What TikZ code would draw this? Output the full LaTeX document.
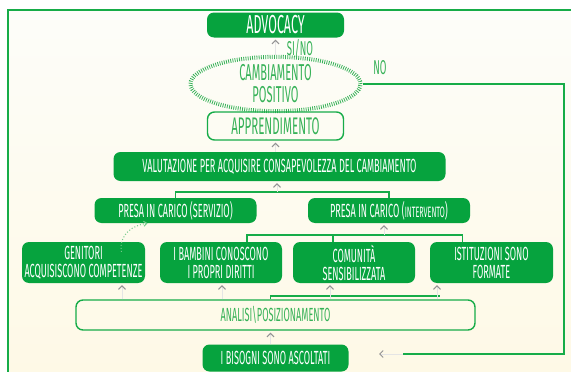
\documentclass[tikz,border=0pt]{standalone}
\usepackage{fontspec}
\setmainfont{Fira Sans}[FakeStretch=0.48]
\usepackage{tikz}
\usetikzlibrary{positioning,shapes.geometric,arrows.meta}
\definecolor{boxgreen}{RGB}{6,163,62}
\definecolor{linegreen}{RGB}{22,172,72}
\definecolor{textgreen}{RGB}{55,178,88}
\definecolor{paper}{RGB}{254,249,230}
\definecolor{paperTop}{RGB}{253,253,249}
\tikzset{
	tag/.style={rectangle,rounded corners=7pt,fill=boxgreen,text=white,align=center,inner sep=0pt,font=\fontsize{19}{18}\selectfont},
	tagw/.style={tag,fill=none,draw=linegreen,line width=1.4pt,text=textgreen},
	goal/.style={ellipse,draw=textgreen,line width=4pt,dash pattern=on 0.8pt off 1.4pt,text=textgreen,align=center,inner sep=0pt,font=\fontsize{23}{22}\selectfont},
	link/.style={draw=linegreen,line width=1.2pt},
	up/.style={-{Straight Barb[length=3.5pt,width=7pt,color=gray!85]},draw=gray!20,line width=1pt,shorten >=2pt},
	lbl/.style={text=textgreen,font=\fontsize{20}{20}\selectfont}
}

\begin{document}
\begin{tikzpicture}[x=1pt,y=1pt,on grid,node distance=40pt]
	\useasboundingbox (0,0) rectangle (571,-372);
	\shade[top color=paperTop,bottom color=paper] (8,-10) rectangle (571,-372);
	\draw[link] (8,-372) -- (8,-10) -- (571,-10);

	\node[tag,minimum width=137pt,minimum height=25pt,font=\fontsize{26}{26}\selectfont] (advocacy) at (275.5,-25) {ADVOCACY};
	\node[goal,minimum width=170pt,minimum height=48pt] (cambio) [below=59pt of advocacy] {CAMBIAMENTO\\POSITIVO};
	\node[tagw,minimum width=136pt,minimum height=28pt,font=\fontsize{24}{24}\selectfont] (apprend) [below=42pt of cambio] {APPRENDIMENTO};
	\node[tag,minimum width=332pt,minimum height=29pt] (valut) [below=40.5pt of apprend,xshift=4pt] {VALUTAZIONE PER ACQUISIRE CONSAPEVOLEZZA DEL CAMBIAMENTO};
	\node[tag,minimum width=162pt,minimum height=25pt] (servizio) [below left=44pt and 104pt of valut] {PRESA IN CARICO (SERVIZIO)};
	\node[tag,minimum width=162pt,minimum height=25pt] (intervento) [right=213.5pt of servizio] {PRESA IN CARICO ({\fontsize{15}{15}\selectfont INTERVENTO})};
	\node[tag,minimum width=123pt,minimum height=41pt] (genitori) [below left=52pt and 92pt of servizio] {GENITORI\\ACQUISISCONO COMPETENZE};
	\node[tag,minimum width=122pt,minimum height=41pt] (bambini) [right=137.5pt of genitori] {I BAMBINI CONOSCONO\\I PROPRI DIRITTI};
	\node[tag,minimum width=122pt,minimum height=41pt] (comunita) [right=133pt of bambini] {COMUNITÀ\\SENSIBILIZZATA};
	\node[tag,minimum width=123pt,minimum height=41pt] (istituzioni) [right=137.5pt of comunita] {ISTITUZIONI SONO\\FORMATE};
	\node[tagw,minimum width=399pt,minimum height=30pt] (analisi) [below=290pt of advocacy] {ANALISI\textbackslash POSIZIONAMENTO};
	\node[tag,minimum width=146pt,minimum height=27pt] (bisogni) [below=43pt of analisi] {I BISOGNI SONO ASCOLTATI};

	\draw[up] (cambio.north) -- (advocacy.south);
	\node[lbl] (sino) at (300,-48) {SI/NO};
	\node[lbl] (no) at (380,-68) {NO};
	\coordinate (noA) at (564,-84);
	\coordinate (noB) at (564,-354);
	\coordinate (noC) at (403,-354);
	\coordinate (noD) at (379,-354);
	\draw[link] (cambio.east) -- (noA) -- (noB) -- (noC);
	\draw[up,shorten >=0pt] (noC) -- (noD);

	\draw[up] (apprend.south |- valut.north) -- (apprend.south);
	\coordinate (presaJoin) at (277,-192);
	\draw[link] (servizio.north) |- (presaJoin) -| (intervento.north);
	\draw[up] (presaJoin) -- (presaJoin |- valut.south);

	\coordinate (rowJoin) at (384,-235);
	\draw[link] ([xshift=26pt]bambini.north) |- (rowJoin) -| ([xshift=-29pt]istituzioni.north);
	\draw[link] ([xshift=-21pt]comunita.north) -- ([xshift=-21pt]comunita.north |- rowJoin);
	\draw[up] (rowJoin) -- (rowJoin |- intervento.south);
	\draw[dotted,line width=1pt,draw=textgreen!70,-{Straight Barb[length=3pt,width=5pt]}] ([xshift=38pt,yshift=-10pt]genitori.north) .. controls +(-3,18) and +(-14,-2) .. ([xshift=-28pt]servizio.south);

	\coordinate (analisiJoin) at (440,-296);
	\draw[link] ([xshift=-5pt]analisi.north) |- (analisiJoin);
	\foreach \n/\dx in {genitori/38.5,bambini/1,comunita/-24,istituzioni/-54.5}
		\draw[up] ([xshift=\dx pt]\n.south |- analisi.north) -- ([xshift=\dx pt]\n.south);
	\draw[up] ([xshift=-5pt]bisogni.north) -- ([xshift=-5pt]bisogni.north |- analisi.south);
\end{tikzpicture}
\end{document}
